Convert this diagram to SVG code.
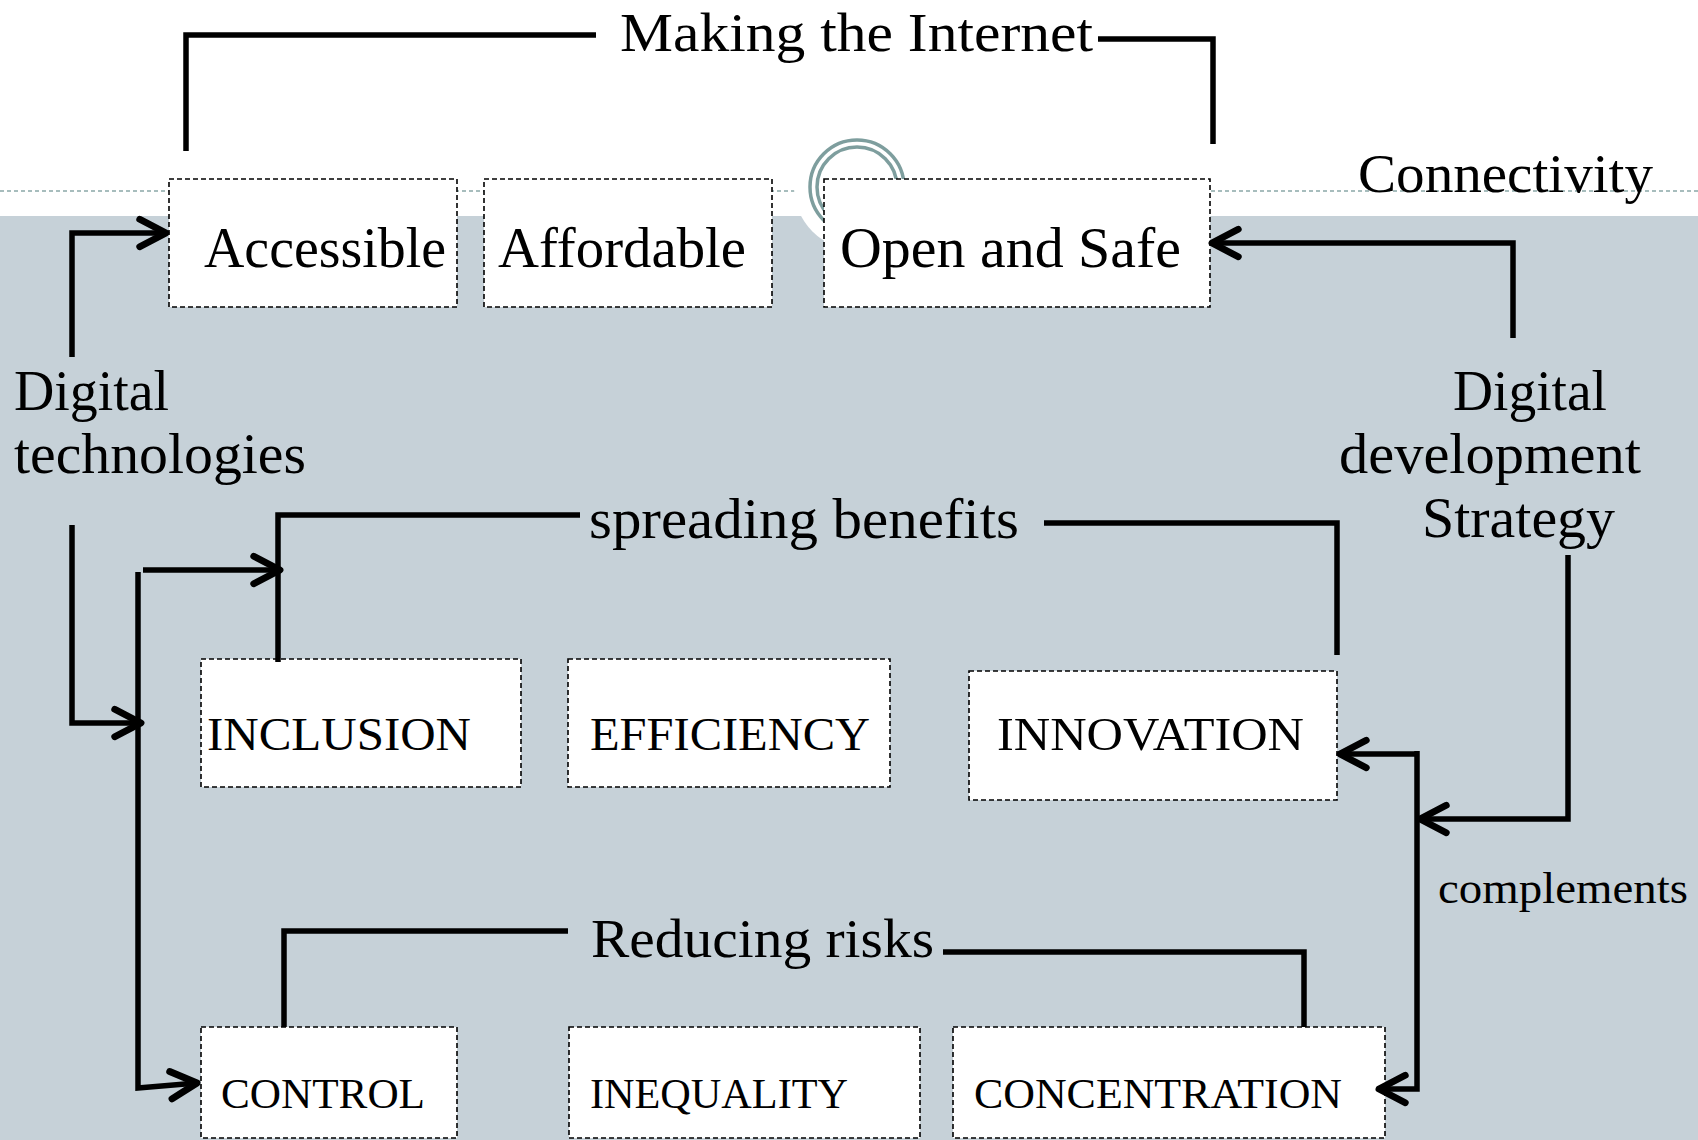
<svg xmlns="http://www.w3.org/2000/svg" width="1698" height="1140" viewBox="0 0 1698 1140">
  <style>
    .box { fill: #ffffff; stroke: #000000; stroke-width: 1.6; stroke-dasharray: 5 3; }
    text { font-family: 'Liberation Serif', Tinos, 'Times New Roman', Times, serif; fill: #000000; }
    .big { font-size: 56px; }
    .cap { font-size: 46px; }
    .capS { font-size: 43px; }
    .small { font-size: 44px; }
    .wire { fill: none; stroke: #000000; stroke-width: 5.5; stroke-linejoin: miter; }
    .ring { fill: none; stroke: #7e9e9e; stroke-width: 3.5; }
  </style>
  <defs>
    <marker id="arrow" markerUnits="userSpaceOnUse" markerWidth="40" markerHeight="40" viewBox="-26 -16 32 32" refX="0" refY="0" orient="auto">
      <path d="M -21 -11 L 0 0 L -21 11" fill="none" stroke="#000000" stroke-width="5.5" stroke-linecap="round" stroke-linejoin="round"/>
    </marker>
  </defs>

  <!-- backdrop: white header band, slate body, dashed rule, ring ornament -->
  <rect x="0" y="0" width="1698" height="1140" fill="#ffffff"/>
  <rect x="0" y="216" width="1698" height="924" fill="#c6d1d8"/>
  <line x1="0" y1="191" x2="1698" y2="191" stroke="#8aa8a8" stroke-width="1.6" stroke-dasharray="4 3"/>
  <circle cx="857" cy="187" r="63" fill="#ffffff"/>
  <circle class="ring" cx="857" cy="187" r="47"/>
  <circle class="ring" cx="857" cy="187" r="40"/>

  <g font-family="Liberation Serif, serif">
  <!-- connectivity row -->
  <g id="node-accessible">
    <rect class="box" x="169" y="179" width="288" height="128"/>
    <text class="big" x="204" y="267" textLength="242" lengthAdjust="spacingAndGlyphs">Accessible</text>
  </g>
  <g id="node-affordable">
    <rect class="box" x="484" y="179" width="288" height="128"/>
    <text class="big" x="498" y="267" textLength="248" lengthAdjust="spacingAndGlyphs">Affordable</text>
  </g>
  <g id="node-open-safe">
    <rect class="box" x="824" y="179" width="386" height="128"/>
    <text class="big" x="840" y="267" textLength="341" lengthAdjust="spacingAndGlyphs">Open and Safe</text>
  </g>

  <!-- benefits row -->
  <g id="node-inclusion">
    <rect class="box" x="201" y="659" width="320" height="128"/>
    <text class="cap" x="207" y="750" textLength="264" lengthAdjust="spacingAndGlyphs">INCLUSION</text>
  </g>
  <g id="node-efficiency">
    <rect class="box" x="568" y="659" width="322" height="128"/>
    <text class="cap" x="590" y="750" textLength="280" lengthAdjust="spacingAndGlyphs">EFFICIENCY</text>
  </g>
  <g id="node-innovation">
    <rect class="box" x="969" y="671" width="368" height="129"/>
    <text class="cap" x="997" y="750" textLength="307" lengthAdjust="spacingAndGlyphs">INNOVATION</text>
  </g>

  <!-- risks row -->
  <g id="node-control">
    <rect class="box" x="201" y="1027" width="256" height="111"/>
    <text class="capS" x="221" y="1108" textLength="204" lengthAdjust="spacingAndGlyphs">CONTROL</text>
  </g>
  <g id="node-inequality">
    <rect class="box" x="569" y="1027" width="351" height="111"/>
    <text class="capS" x="590" y="1108" textLength="258" lengthAdjust="spacingAndGlyphs">INEQUALITY</text>
  </g>
  <g id="node-concentration">
    <rect class="box" x="953" y="1027" width="432" height="111"/>
    <text class="capS" x="974" y="1108" textLength="368" lengthAdjust="spacingAndGlyphs">CONCENTRATION</text>
  </g>

  <!-- free-standing labels -->
  <g id="node-making-internet">
    <text font-size="54" x="620" y="51" textLength="473" lengthAdjust="spacingAndGlyphs">Making the Internet</text>
  </g>
  <g id="node-connectivity">
    <text font-size="55" x="1358" y="192" textLength="295" lengthAdjust="spacingAndGlyphs">Connectivity</text>
  </g>
  <g id="node-digital-technologies">
    <text class="big" x="14" y="410" textLength="155" lengthAdjust="spacingAndGlyphs">Digital</text>
    <text class="big" x="14" y="473" textLength="292" lengthAdjust="spacingAndGlyphs">technologies</text>
  </g>
  <g id="node-strategy">
    <text class="big" x="1453" y="410" textLength="154" lengthAdjust="spacingAndGlyphs">Digital</text>
    <text class="big" x="1339" y="473" textLength="302" lengthAdjust="spacingAndGlyphs">development</text>
    <text class="big" x="1422" y="537" textLength="193" lengthAdjust="spacingAndGlyphs">Strategy</text>
  </g>
  <g id="node-spreading-benefits">
    <text class="big" x="589" y="538" textLength="430" lengthAdjust="spacingAndGlyphs">spreading benefits</text>
  </g>
  <g id="node-reducing-risks">
    <text font-size="54" x="591" y="957" textLength="343" lengthAdjust="spacingAndGlyphs">Reducing risks</text>
  </g>
  <g id="node-complements">
    <text class="small" x="1438" y="903" textLength="250" lengthAdjust="spacingAndGlyphs">complements</text>
  </g>
  </g>

  <!-- connectors -->
  <g id="connectors">
    <!-- "Making the Internet" bracket -->
    <path class="wire" d="M186,151 V35 H596"/>
    <path class="wire" d="M1098,39 H1213 V144"/>
    <!-- technologies / strategy into the connectivity row -->
    <path class="wire" d="M72,357 V233 H166" marker-end="url(#arrow)"/>
    <path class="wire" d="M1513,338 V243 H1212" marker-end="url(#arrow)"/>
    <!-- technologies down to the left bus -->
    <path class="wire" d="M72,525 V723 H141" marker-end="url(#arrow)"/>
    <path class="wire" d="M138,572 V1088 L197,1083" marker-end="url(#arrow)"/>
    <path class="wire" d="M143,570 H280" marker-end="url(#arrow)"/>
    <!-- "spreading benefits" bracket -->
    <path class="wire" d="M278,662 V515 H580"/>
    <path class="wire" d="M1044,523 H1337 V655"/>
    <!-- "Reducing risks" bracket -->
    <path class="wire" d="M284,1027 V931 H568"/>
    <path class="wire" d="M943,952 H1304 V1027"/>
    <!-- strategy into the right bus -->
    <path class="wire" d="M1568,555 V819 H1420" marker-end="url(#arrow)"/>
    <path class="wire" d="M1417,754 H1340" marker-end="url(#arrow)"/>
    <path class="wire" d="M1417,751 V1089 H1379" marker-end="url(#arrow)"/>
  </g>
</svg>
